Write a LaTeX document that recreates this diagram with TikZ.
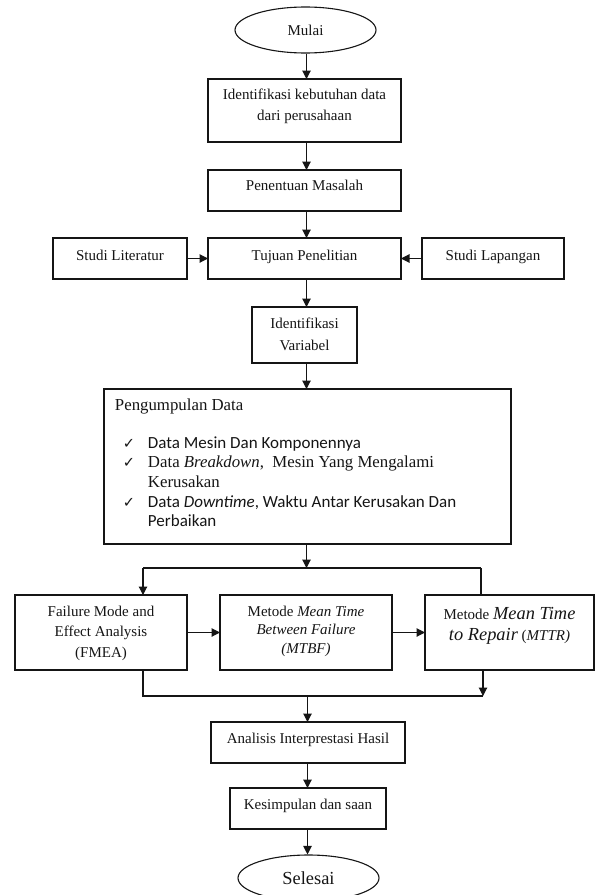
\documentclass[tikz,border=0pt]{standalone}
\usepackage{fontspec}
\setmainfont{Liberation Serif}
\newfontfamily\calfont{Carlito}
\newfontfamily\dvfont{DejaVu Sans}
\usetikzlibrary{arrows.meta,shapes.geometric}
\definecolor{ink}{HTML}{151515}
\newcommand{\bxt}[5]{\parbox[c][#2][t]{#1}{\centering\fontsize{15bp}{#4}\selectfont\rule{0pt}{#3}#5\par}}
\newcommand{\ck}{{\dvfont\fontsize{14.5bp}{14.5bp}\selectfont ✓}}
\begin{document}
\begin{tikzpicture}[x=1bp,y=-1bp,
  box/.style={draw=ink, line width=1.1bp, inner sep=0pt, outer sep=0pt, text=ink},
  ell/.style={draw=ink, ellipse, line width=1.1bp, inner sep=0pt, minimum width=141bp, minimum height=46bp, text=ink},
  arr/.style={draw=ink, line width=1.1bp, -{Triangle[length=8.5bp,width=8.5bp]}},
  ln/.style={draw=ink, line width=1.1bp}]
\useasboundingbox (0,0) rectangle (595,895);
\coordinate (ax) at (306.5,0);
% nodes
\node[ell] (mulai) at (305.5,30) {\fontsize{15bp}{18bp}\selectfont Mulai};
\node[box] (idk) at (304.5,110.5) {\bxt{193bp}{63bp}{20bp}{21bp}{Identifikasi kebutuhan data\\dari perusahaan}};
\node[box] (pen) at (304.5,190.5) {\bxt{193bp}{41bp}{20bp}{21bp}{Penentuan Masalah}};
\node[box] (tuj) at (304.5,258.5) {\bxt{193bp}{41bp}{22bp}{21bp}{Tujuan Penelitian}};
\node[box] (lit) at (120,258.5) {\bxt{134bp}{41bp}{22bp}{21bp}{Studi Literatur}};
\node[box] (lap) at (493,258.5) {\bxt{142bp}{41bp}{22bp}{21bp}{Studi Lapangan}};
\node[box] (var) at (304.5,335) {\bxt{105bp}{56bp}{21bp}{22bp}{Identifikasi\\Variabel}};
\node[box] (pd) at (307.5,466.5) {\parbox[c][155bp][t]{407bp}{\raggedright\fontsize{16.8bp}{19.7bp}\selectfont
  \rule{0pt}{21bp}\hspace*{11bp}Pengumpulan Data\par
  \vspace{18.3bp}
  \hspace*{19bp}\makebox[25bp][l]{\ck}{\calfont\fontsize{17bp}{19.7bp}\selectfont Data Mesin Dan Komponennya}\par
  \hspace*{19bp}\makebox[25bp][l]{\ck}Data \textit{Breakdown},\ \ Mesin Yang Mengalami\par
  \hspace*{44bp}Kerusakan\par
  \hspace*{19bp}\makebox[25bp][l]{\ck}{\calfont\fontsize{17bp}{19.7bp}\selectfont Data \textit{Downtime}, Waktu Antar Kerusakan Dan}\par
  \hspace*{44bp}{\calfont\fontsize{17bp}{19.7bp}\selectfont Perbaikan}\par}};
\node[box] (fmea) at (101,632.5) {\bxt{172bp}{75bp}{21bp}{20.5bp}{Failure Mode and\\Effect Analysis\\(FMEA)}};
\node[box] (mtbf) at (306,632.5) {\bxt{172bp}{75bp}{21bp}{18.5bp}{Metode \textit{Mean Time}\\\textit{Between Failure}\\\textit{(MTBF)}}};
\node[box] (mttr) at (509.5,632.5) {\bxt{169bp}{75bp}{24bp}{21bp}{Metode {\fontsize{18.4bp}{21bp}\selectfont\textit{Mean Time}}\\{\fontsize{18.4bp}{21bp}\selectfont\textit{to Repair}} (\textit{MTTR)}}};
\node[box] (ana) at (308,742.5) {\bxt{194bp}{41bp}{21bp}{21bp}{Analisis Interprestasi Hasil}};
\node[box] (kes) at (308,808.5) {\bxt{156bp}{41bp}{21bp}{21bp}{Kesimpulan dan saan}};
\node[ell] (sel) at (308.5,878) {\fontsize{18.4bp}{22bp}\selectfont Selesai};
% connectors
\draw[arr] (mulai.south -| ax) -- (idk.north -| ax);
\draw[arr] (idk.south -| ax) -- (pen.north -| ax);
\draw[arr] (pen.south -| ax) -- (tuj.north -| ax);
\draw[arr] (lit.east) -- (tuj.west);
\draw[arr] (lap.west) -- (tuj.east);
\draw[arr] (tuj.south -| ax) -- (var.north -| ax);
\draw[arr] (var.south -| ax) -- (pd.north -| ax);
\coordinate (sp) at (306.5,568);
\coordinate (spl) at (143,568);
\coordinate (spr) at (481,568);
\draw[arr] (pd.south -| sp) -- (sp);
\draw[ln] (spl) -- (spr);
\draw[arr] (spl) -- (spl |- fmea.north);
\draw[ln] (spr) -- (spr |- mttr.north);
\draw[arr] (fmea.east) -- (mtbf.west);
\draw[arr] (mtbf.east) -- (mttr.west);
\coordinate (jn) at (307.5,696);
\coordinate (jl) at (143,696);
\coordinate (jr) at (483,696);
\draw[ln] (jl |- fmea.south) -- (jl) -- (jr);
\draw[arr] (jr |- mttr.south) -- (jr);
\draw[arr] (jn) -- (jn |- ana.north);
\draw[arr] (ana.south -| jn) -- (kes.north -| jn);
\draw[arr] (kes.south -| jn) -- (sel.north -| jn);
\end{tikzpicture}
\end{document}
